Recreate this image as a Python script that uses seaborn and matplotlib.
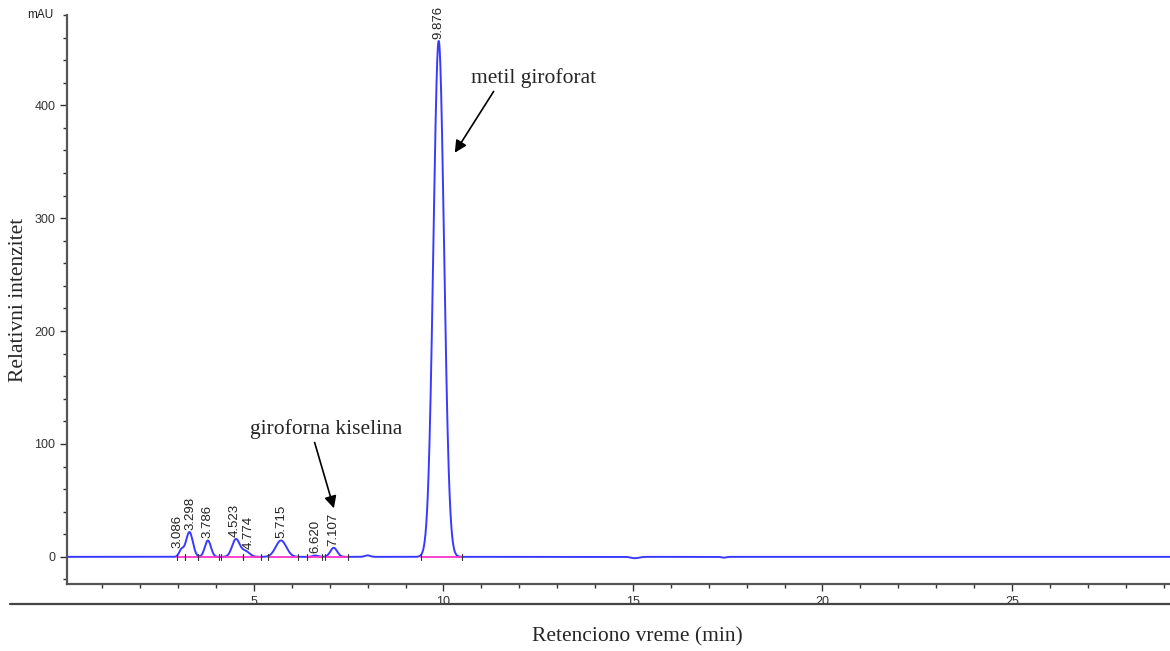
import numpy as np
import pandas as pd
import matplotlib
matplotlib.use("Agg")
import matplotlib.pyplot as plt
import seaborn as sns

# Peak table (retention time, height mAU, width sigma min)
peak_times = [3.086, 3.298, 3.786, 4.523, 4.774, 5.715, 6.620, 7.107, 8.00, 9.876, 15.05, 17.40]
peak_heights = [6.0, 22.0, 14.5, 15.5, 5.0, 14.5, 1.2, 8.0, 1.3, 457.0, -1.2, -0.7]
peak_sigmas = [0.06, 0.09, 0.08, 0.1, 0.11, 0.14, 0.07, 0.09, 0.07, 0.14, 0.1, 0.06]
labeled = [True, True, True, True, True, True, True, True, False, True, False, False]
peak_labels = ["3.086", "3.298", "3.786", "4.523", "4.774", "5.715", "6.620", "7.107", "", "9.876", "", ""]

# integration baseline segments (start, end) in min
seg_start = [2.96, 3.18, 3.52, 4.12, 4.72, 5.37, 6.39, 6.87, 9.40]
seg_end = [3.18, 3.52, 4.08, 4.72, 5.20, 6.17, 6.80, 7.49, 10.48]

x_ticks_major = [5, 10, 15, 20, 25]
y_ticks_major = [0, 100, 200, 300, 400]

t = np.linspace(0.0, 29.2, 6000)
signal = np.zeros_like(t)
for rt, h, s in zip(peak_times, peak_heights, peak_sigmas):
    signal += h * np.exp(-0.5 * ((t - rt) / s) ** 2)
df = pd.DataFrame({"time": t, "mAU": signal})

sns.set_style("white")
plt.rcParams["font.family"] = ["Liberation Sans", "DejaVu Sans"]

fig = plt.figure(figsize=(11.7, 6.51), dpi=100)
ax = fig.add_axes([0.0573, 0.103, 0.9427, 0.874])

sns.lineplot(data=df, x="time", y="mAU", ax=ax, color="#3a3aff", linewidth=1.4, zorder=3)

for a, b in zip(seg_start, seg_end):
    ax.plot([a, b], [0, 0], color="#ff33cc", linewidth=1.3, zorder=4)
    for v in (a, b):
        ax.plot([v, v], [-2.5, 2.5], color="#333333", linewidth=0.8, zorder=5)

# small horizontal nudges (min) for crowded labels
label_nudge = {"3.086": -0.1, "3.298": 0.04, "4.523": -0.04, "4.774": 0.1}
for rt, h, lab, show in zip(peak_times, peak_heights, peak_labels, labeled):
    if not show:
        continue
    ax.text(rt + label_nudge.get(lab, 0.0), h + 2, lab, rotation=90, ha="center",
            va="bottom", fontsize=9.5, color="#222222", zorder=6)

ax.set_xlim(0.07, 29.17)
ax.set_ylim(-24, 480)
ax.set_xticks(x_ticks_major)
ax.set_xticks(np.arange(1, 30, 1), minor=True)
ax.set_yticks(y_ticks_major)
ax.set_yticks(np.arange(-20, 481, 20), minor=True)
ax.tick_params(axis="both", which="major", direction="out", length=5, width=1,
               labelsize=9, colors="#333333")
ax.tick_params(axis="both", which="minor", direction="out", length=3, width=1,
               colors="#333333")
ax.tick_params(axis="x", which="both", bottom=True)
ax.tick_params(axis="y", which="both", left=True)

for side in ("top", "right"):
    ax.spines[side].set_visible(False)
for side in ("left", "bottom"):
    ax.spines[side].set_color("#555555")
    ax.spines[side].set_linewidth(1.6)

ax.set_xlabel("")
ax.set_ylabel("")
ax.text(-0.012, 1.0, "mAU", transform=ax.transAxes, ha="right", va="center",
        fontsize=8.5, color="#222222")

serif = ["Liberation Serif", "DejaVu Serif"]
ax.annotate("metil giroforat", xy=(10.30, 358), xytext=(10.72, 424),
            fontsize=15.5, family=serif, va="center", ha="left",
            arrowprops=dict(arrowstyle="-|>", color="black", lw=1.2,
                            mutation_scale=18, shrinkA=0, shrinkB=0,
                            relpos=(0.2, 0.0)))
ax.annotate("giroforna kiselina", xy=(7.11, 43), xytext=(4.89, 113),
            fontsize=15.5, family=serif, va="center", ha="left",
            arrowprops=dict(arrowstyle="-|>", color="black", lw=1.2,
                            mutation_scale=18, shrinkA=0, shrinkB=0,
                            relpos=(0.42, 0.0)))

fig.add_artist(plt.Line2D([0.0085, 1.0], [0.072, 0.072], color="#444444", lw=1.6))
fig.text(0.545, 0.022, "Retenciono vreme (min)", ha="center", va="center",
         fontsize=15.5, family=serif)
fig.text(0.016, 0.54, "Relativni intenzitet", ha="center", va="center",
         rotation=90, fontsize=15.5, family=serif)

fig.savefig("out.png", dpi=100)
